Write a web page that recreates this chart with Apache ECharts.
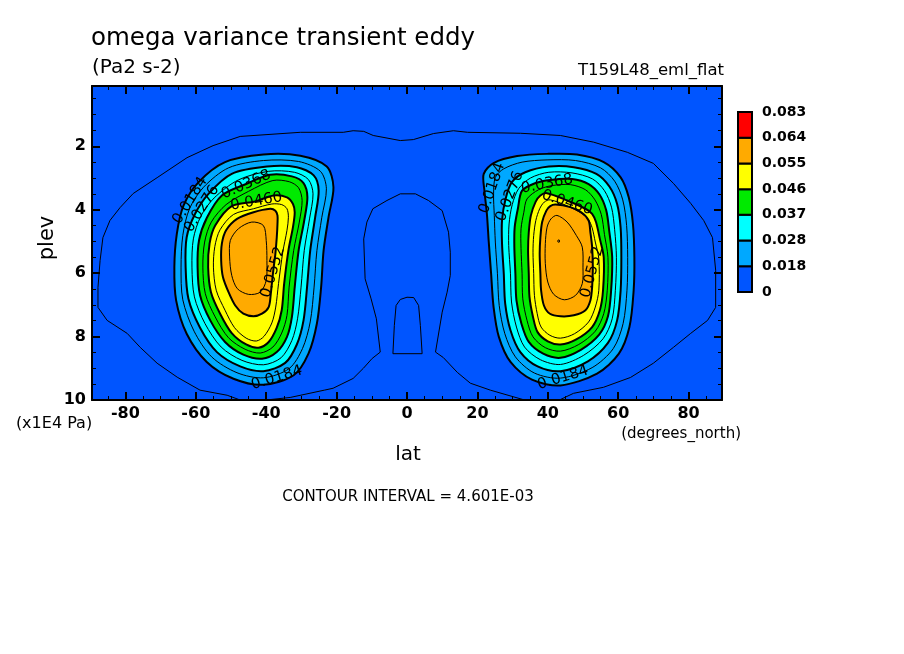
<!DOCTYPE html>
<html><head><meta charset="utf-8">
<script src="https://cdn.jsdelivr.net/npm/echarts@6/dist/echarts.min.js"></script>
<style>html,body{margin:0;padding:0;background:#fff}#c{width:904px;height:654px}</style>
</head><body><div id="c"></div>
<script>
// ---- axis ranges and ticks ----
const latRange = [-89.5, 89.5];
const plevRange = [0.1, 10];
const xLabelTicks = [-80, -60, -40, -20, 0, 20, 40, 60, 80];
const xMinorTicks = [-85, -75, -70, -65, -55, -50, -45, -35, -30, -25, -15, -10, -5, 5, 10, 15, 25, 30, 35, 45, 50, 55, 65, 70, 75, 85];
const yLabelTicks = [2, 4, 6, 8, 10];
const yMinorTicks = [0.5, 1, 1.5, 2.5, 3, 3.5, 4.5, 5, 5.5, 6.5, 7, 7.5, 8.5, 9, 9.5];

// ---- colour bands (shade levels) ----
const shadeLevels = [0, 0.0184, 0.0276, 0.0368, 0.0460, 0.0552, 0.0644, 0.083];
const legendTicks = ['0', '0.018', '0.028', '0.037', '0.046', '0.055', '0.064', '0.083'];
const bandColors = ['#0055ff', '#00a8ff', '#00ffff', '#00ea00', '#ffff00', '#ffaa00', '#ff0000'];
const labeledLevels = [0.0184, 0.0276, 0.0368, 0.0460, 0.0552];

// ---- contour lines: [lat, plev(x1E4 Pa)] ----
const outerLine = [[-58.8,9.69],[-51.1,9.85],[-47.4,10.0],[-40.0,10.0],[-33.2,9.92],[-23.5,9.69],[-21.0,9.63],[-15.3,9.32],[-12.4,9.00],[-9.9,8.69],[-7.6,8.49],[-8.7,7.44],[-10.2,6.81],[-11.9,6.18],[-12.3,4.92],[-11.4,4.39],[-9.7,3.97],[-5.7,3.71],[-1.9,3.50],[2.4,3.50],[6.1,3.71],[10.0,4.03],[11.8,4.71],[12.3,5.34],[12.3,6.07],[11.4,6.60],[10.0,7.23],[8.1,8.49],[10.3,8.66],[14.3,9.13],[18.0,9.47],[23.7,9.69],[33.4,10.0],[43.3,10.0],[47.3,9.79],[55.8,9.60],[63.5,9.29],[70.0,8.84],[75.7,8.34],[80.6,7.90],[85.4,7.49],[87.7,7.08],[87.7,5.91],[86.8,4.88],[84.3,4.34],[80.6,3.80],[75.7,3.17],[70.0,2.54],[62.6,2.19],[53.0,1.87],[43.6,1.66],[32.2,1.59],[17.2,1.56],[13.2,1.51],[7.5,1.60],[1.8,1.79],[-1.9,1.82],[-9.6,1.66],[-12.3,1.53],[-15.3,1.51],[-18.1,1.56],[-30.3,1.56],[-47.4,1.69],[-55.1,1.98],[-62.5,2.36],[-71.0,2.99],[-77.8,3.49],[-81.5,3.93],[-84.4,4.34],[-86.4,4.88],[-87.2,5.60],[-87.8,6.45],[-87.8,7.08],[-85.2,7.49],[-79.5,7.90],[-75.8,8.34],[-71.0,8.84],[-65.3,9.28]];
const centreLoop = [[-3.1,7.02],[-1.9,6.83],[0.0,6.76],[1.9,6.77],[3.3,7.02],[3.8,7.65],[4.3,8.54],[-4.0,8.54],[-3.6,7.65]];

const westC184 = [[-40.8,2.26],[-30.3,2.30],[-22.8,2.64],[-20.9,3.29],[-22.3,4.24],[-23.7,5.29],[-24.4,6.44],[-25.6,7.59],[-28.0,8.54],[-32.2,9.22],[-40.8,9.52],[-49.3,9.33],[-56.9,8.80],[-62.6,7.91],[-65.6,6.86],[-66.1,5.81],[-65.4,4.76],[-63.5,3.87],[-59.2,3.13],[-51.7,2.50]];
const westC230 = [[-40.8,2.45],[-30.8,2.48],[-24.6,2.79],[-22.9,3.34],[-24.2,4.24],[-25.6,5.29],[-26.4,6.44],[-27.5,7.54],[-29.7,8.38],[-33.5,9.01],[-40.8,9.30],[-48.3,9.14],[-55.5,8.64],[-60.5,7.83],[-63.7,6.84],[-64.2,5.81],[-63.7,4.81],[-61.8,3.97],[-57.8,3.29],[-50.7,2.68]];
const westC276 = [[-39.8,2.64],[-31.3,2.66],[-26.5,2.92],[-25.1,3.40],[-26.1,4.24],[-27.5,5.29],[-28.4,6.44],[-29.4,7.49],[-31.3,8.25],[-34.6,8.83],[-40.8,9.09],[-47.4,8.94],[-54.0,8.49],[-58.8,7.72],[-62.1,6.81],[-62.9,5.81],[-62.6,4.87],[-60.2,4.13],[-56.4,3.50],[-49.8,2.87]];
const westC322 = [[-39.3,2.79],[-32.0,2.82],[-28.0,3.05],[-26.7,3.50],[-27.7,4.29],[-29.2,5.29],[-30.1,6.44],[-31.1,7.44],[-32.7,8.12],[-35.8,8.67],[-40.8,8.89],[-46.9,8.75],[-52.8,8.33],[-57.4,7.59],[-60.4,6.75],[-61.1,5.81],[-60.7,4.92],[-58.6,4.21],[-54.8,3.63],[-47.9,3.06]];
const westC368 = [[-38.9,2.90],[-32.7,2.95],[-29.4,3.16],[-28.3,3.61],[-29.2,4.34],[-30.8,5.29],[-31.9,6.44],[-32.7,7.38],[-34.1,8.01],[-37.0,8.49],[-41.2,8.70],[-46.5,8.57],[-51.7,8.17],[-55.9,7.49],[-58.8,6.70],[-59.5,5.81],[-59.1,4.97],[-56.9,4.26],[-52.6,3.55],[-45.7,3.19]];
const westC414 = [[-38.1,3.08],[-33.4,3.12],[-30.8,3.31],[-29.8,3.71],[-30.6,4.39],[-32.2,5.29],[-33.5,6.44],[-34.1,7.33],[-35.6,7.89],[-38.1,8.33],[-41.7,8.52],[-46.0,8.40],[-50.7,8.04],[-54.5,7.38],[-57.3,6.65],[-58.0,5.81],[-57.5,5.02],[-55.6,4.39],[-51.4,3.84],[-45.0,3.42]];
const westC460 = [[-37.9,3.55],[-34.1,3.61],[-32.4,3.82],[-31.9,4.08],[-32.4,4.55],[-33.7,5.29],[-34.9,6.33],[-35.6,7.17],[-37.0,7.72],[-39.3,8.17],[-42.2,8.35],[-45.7,8.25],[-49.8,7.89],[-53.1,7.28],[-55.7,6.60],[-56.5,5.81],[-56.1,5.07],[-54.5,4.50],[-49.8,3.89],[-43.1,3.74]];
const westC506 = [[-38.4,3.82],[-35.6,3.84],[-34.1,3.97],[-33.7,4.24],[-34.1,4.65],[-35.3,5.34],[-36.5,6.33],[-37.3,7.07],[-38.4,7.57],[-40.6,7.99],[-42.8,8.14],[-45.7,8.05],[-49.0,7.72],[-51.7,7.17],[-54.2,6.54],[-55.0,5.81],[-54.6,5.16],[-53.1,4.63],[-49.3,4.15],[-43.6,3.97]];
const westC552 = [[-38.9,3.97],[-37.4,4.03],[-36.8,4.18],[-36.8,4.45],[-37.0,4.87],[-37.4,5.39],[-38.1,6.02],[-38.7,6.65],[-39.3,7.07],[-41.2,7.28],[-43.6,7.36],[-46.5,7.28],[-48.8,7.02],[-50.7,6.60],[-52.3,6.12],[-52.8,5.60],[-52.6,5.07],[-51.4,4.65],[-48.3,4.29],[-43.6,4.08]];
const westC598 = [[-44.1,4.39],[-40.8,4.50],[-40.0,4.97],[-39.8,5.60],[-40.0,6.23],[-41.7,6.60],[-45.0,6.67],[-48.2,6.49],[-49.8,6.07],[-50.4,5.49],[-50.2,4.97],[-47.9,4.60]];

const eastC184 = [[39.8,2.24],[48.3,2.26],[55.9,2.50],[60.7,2.98],[63.0,3.61],[64.2,4.45],[64.6,5.50],[64.4,6.54],[63.2,7.70],[60.2,8.54],[54.0,9.17],[43.6,9.54],[35.5,9.36],[29.4,8.80],[26.1,8.01],[24.6,7.07],[23.9,6.02],[23.2,4.97],[22.7,4.13],[22.0,3.40],[21.8,2.87],[24.6,2.53],[31.3,2.31]];
const eastC230 = [[39.8,2.43],[47.9,2.45],[55.0,2.68],[59.0,3.10],[61.3,3.69],[62.4,4.50],[62.7,5.50],[62.5,6.54],[61.4,7.59],[58.6,8.38],[52.6,8.98],[43.6,9.31],[36.2,9.15],[30.8,8.64],[27.8,7.91],[26.2,7.02],[25.7,6.02],[25.1,5.02],[24.8,4.18],[24.6,3.50],[25.1,2.98],[27.5,2.71],[32.7,2.50]];
const eastC276 = [[40.3,2.64],[47.4,2.66],[53.8,2.87],[57.5,3.27],[59.7,3.82],[60.7,4.57],[60.9,5.50],[60.7,6.54],[59.7,7.49],[57.1,8.20],[51.4,8.78],[43.6,9.09],[37.1,8.94],[32.2,8.49],[29.4,7.80],[27.9,6.96],[27.5,6.02],[27.0,5.07],[27.0,4.34],[28.0,3.66],[29.8,3.13],[33.6,2.82]];
const eastC322 = [[40.3,2.82],[46.9,2.84],[52.7,3.03],[56.1,3.40],[58.1,3.92],[59.0,4.63],[59.5,5.50],[59.2,6.54],[58.3,7.44],[55.7,8.07],[50.2,8.59],[43.6,8.88],[37.9,8.73],[33.4,8.33],[31.1,7.70],[29.7,6.91],[29.4,6.02],[28.9,5.13],[29.0,4.45],[29.9,3.84],[31.7,3.34],[35.1,3.00]];
const eastC368 = [[40.7,3.06],[46.9,3.03],[51.6,3.19],[54.7,3.52],[56.6,4.02],[57.5,4.71],[58.3,5.50],[58.0,6.54],[57.1,7.36],[54.6,7.94],[49.5,8.41],[43.6,8.67],[38.7,8.54],[34.6,8.17],[32.5,7.59],[31.1,6.86],[30.8,6.02],[30.5,5.18],[30.6,4.55],[31.5,3.97],[32.7,3.40],[36.5,3.16]];
const eastC414 = [[41.2,3.24],[46.4,3.21],[50.7,3.37],[53.4,3.69],[55.2,4.15],[56.1,4.78],[57.1,5.50],[56.9,6.54],[55.9,7.28],[53.5,7.83],[48.8,8.25],[43.6,8.46],[39.3,8.35],[35.8,8.01],[34.1,7.49],[32.9,6.81],[32.7,6.02],[32.4,5.23],[32.4,4.60],[33.2,4.08],[34.1,3.66],[37.4,3.37]];
const eastC460 = [[39.8,3.48],[45.5,3.71],[50.7,3.97],[52.6,4.13],[53.7,4.39],[54.8,4.92],[55.9,5.50],[55.7,6.54],[54.8,7.17],[52.6,7.70],[48.1,8.09],[43.6,8.25],[40.0,8.15],[37.1,7.86],[35.8,7.38],[34.8,6.75],[34.6,6.02],[34.4,5.28],[34.6,4.71],[35.2,4.18],[36.5,3.76],[37.9,3.55]];
const eastC506 = [[40.7,3.69],[45.5,3.88],[49.8,4.13],[51.6,4.32],[52.6,4.57],[53.5,5.02],[54.5,5.55],[54.5,6.54],[53.5,7.07],[51.6,7.54],[47.6,7.91],[43.6,8.05],[40.6,7.96],[38.1,7.70],[37.0,7.28],[36.2,6.70],[36.0,6.02],[35.8,5.34],[36.0,4.81],[36.6,4.34],[37.7,3.97],[39.0,3.76]];
const eastC552 = [[42.2,3.84],[46.4,3.92],[49.5,4.08],[51.6,4.34],[52.1,4.71],[52.6,5.18],[52.8,5.81],[52.6,6.44],[52.1,6.86],[50.7,7.17],[47.4,7.33],[43.6,7.36],[40.6,7.28],[38.9,7.02],[38.1,6.54],[37.9,6.02],[37.7,5.39],[37.9,4.87],[38.4,4.39],[39.6,4.03],[40.7,3.89]];
const eastC598 = [[42.6,4.18],[45.5,4.39],[48.1,4.81],[49.8,5.18],[50.0,5.81],[49.8,6.33],[47.9,6.70],[44.7,6.84],[41.7,6.67],[40.0,6.28],[39.3,5.70],[39.3,5.07],[39.8,4.55],[40.9,4.29]];
const eastC644 = [[42.9,4.96],[43.3,4.96],[43.3,5.02],[42.9,5.02]];

// ---- contour labels: text, lat, plev ----
const labelTexts = ['0.0184','0.0276','0.0368','0.0460','0.0552','0.0184','0.0184','0.0276','0.0368','0.0460','0.0552','0.0184'];
const labelLats  = [-61.6, -58.3, -45.7, -42.8, -38.1, -37.0, 24.2, 29.2, 39.8, 45.5, 52.6, 44.3];
const labelPlevs = [3.71, 3.97, 3.21, 3.74, 5.97, 9.30, 3.32, 3.58, 3.19, 3.78, 5.97, 9.30];
const labelAngles = [58, 58, 24, 10, 73, 17, 71, 69, 11, -18, 75, 17];

const contours = [
  {level: 0.0092, pts: outerLine}, {level: 0.0138, pts: centreLoop},
  {level: 0.0184, pts: westC184}, {level: 0.0230, pts: westC230}, {level: 0.0276, pts: westC276},
  {level: 0.0322, pts: westC322}, {level: 0.0368, pts: westC368}, {level: 0.0414, pts: westC414},
  {level: 0.0460, pts: westC460}, {level: 0.0506, pts: westC506}, {level: 0.0552, pts: westC552},
  {level: 0.0598, pts: westC598},
  {level: 0.0184, pts: eastC184}, {level: 0.0230, pts: eastC230}, {level: 0.0276, pts: eastC276},
  {level: 0.0322, pts: eastC322}, {level: 0.0368, pts: eastC368}, {level: 0.0414, pts: eastC414},
  {level: 0.0460, pts: eastC460}, {level: 0.0506, pts: eastC506}, {level: 0.0552, pts: eastC552},
  {level: 0.0598, pts: eastC598}, {level: 0.0644, pts: eastC644}
];
const fillList = contours.filter(c => shadeLevels.indexOf(c.level) > 0 && c.level < 0.06)
  .sort((a, b) => a.level - b.level);

const FONT = 'DejaVu Sans';
const SMOOTH = 0.3;
const chart = echarts.init(document.getElementById('c'), null, {renderer: 'canvas'});

function xAx(pos, ticks, len, w, showLine, showLabel) {
  return {
    type: 'value', gridIndex: 0, position: pos, min: latRange[0], max: latRange[1],
    splitLine: {show: false},
    axisLine: {show: showLine, onZero: false, lineStyle: {color: '#000', width: 2}},
    axisTick: {show: true, inside: true, length: len, customValues: ticks, lineStyle: {color: '#000', width: w}},
    axisLabel: {show: showLabel, customValues: xLabelTicks, margin: 6, color: '#000',
      fontSize: 16, fontFamily: FONT, fontWeight: 'bold'}
  };
}
function yAx(pos, ticks, len, w, showLine, showLabel) {
  return {
    type: 'value', gridIndex: 0, position: pos, min: plevRange[0], max: plevRange[1], inverse: true,
    splitLine: {show: false},
    axisLine: {show: showLine, onZero: false, lineStyle: {color: '#000', width: 2}},
    axisTick: {show: true, inside: true, length: len, customValues: ticks, lineStyle: {color: '#000', width: w}},
    axisLabel: {show: showLabel, customValues: yLabelTicks, margin: 6, color: '#000',
      fontSize: 16, fontFamily: FONT, fontWeight: 'bold'}
  };
}

function txt(text, x, y, size, align, rot) {
  return {type: 'text', x: x, y: y, rotation: rot || 0, silent: true,
    style: {text: text, fill: '#000', font: size + 'px "' + FONT + '"',
      align: align, verticalAlign: 'middle', textAlign: align, textVerticalAlign: 'middle'}};
}

const option = {
  backgroundColor: '#ffffff',
  animation: false,
  grid: [
    {left: 92, top: 86, width: 630, height: 314, show: true, backgroundColor: bandColors[0], borderWidth: 0},
    {left: 738, top: 112, width: 14, height: 180, show: false}
  ],
  xAxis: [
    xAx('bottom', xLabelTicks, 8, 2, true, true),
    xAx('bottom', xMinorTicks, 4, 1, false, false),
    xAx('top', xLabelTicks, 8, 2, true, false),
    xAx('top', xMinorTicks, 4, 1, false, false),
    {type: 'value', gridIndex: 1, min: 0, max: 1, show: false}
  ],
  yAxis: [
    yAx('left', yLabelTicks, 8, 2, true, true),
    yAx('left', yMinorTicks, 4, 1, false, false),
    yAx('right', yLabelTicks, 8, 2, true, false),
    yAx('right', yMinorTicks, 4, 1, false, false),
    {type: 'value', gridIndex: 1, position: 'right', min: 0, max: 7, interval: 1,
      splitLine: {show: false}, axisLine: {show: false}, axisTick: {show: false},
      axisLabel: {show: true, showMinLabel: true, showMaxLabel: true, margin: 10, color: '#000',
        fontSize: 14, fontWeight: 'bold', fontFamily: FONT,
        formatter: v => legendTicks[Math.round(v)]}}
  ],
  series: [
    { // shaded bands
      type: 'custom', xAxisIndex: 0, yAxisIndex: 0, clip: true, silent: true,
      data: fillList.map(c => c.pts[0]),
      renderItem: function (params, api) {
        const c = fillList[params.dataIndex];
        const col = bandColors[shadeLevels.indexOf(c.level)];
        return {type: 'polygon', shape: {points: c.pts.map(p => api.coord(p)), smooth: SMOOTH},
          style: {fill: col, stroke: col, lineWidth: 0.5}};
      }
    },
    { // contour lines
      type: 'custom', xAxisIndex: 0, yAxisIndex: 0, clip: true, silent: true,
      data: contours.map(c => c.pts[0]),
      renderItem: function (params, api) {
        const c = contours[params.dataIndex];
        const thick = labeledLevels.indexOf(c.level) >= 0;
        const sm = c.level >= 0.0184 ? SMOOTH : 0;
        return {type: 'polygon', shape: {points: c.pts.map(p => api.coord(p)), smooth: sm},
          style: {fill: 'none', stroke: '#000', lineWidth: thick ? 2 : 1}};
      }
    },
    { // contour labels
      type: 'custom', xAxisIndex: 0, yAxisIndex: 0, clip: true, silent: true,
      data: labelLats.map((la, i) => [la, labelPlevs[i]]),
      renderItem: function (params, api) {
        const i = params.dataIndex;
        const p = api.coord([labelLats[i], labelPlevs[i]]);
        return {type: 'text', x: p[0], y: p[1], rotation: labelAngles[i] * Math.PI / 180,
          style: {text: labelTexts[i], fill: '#000', font: '15px "' + FONT + '"',
            align: 'center', verticalAlign: 'middle', textAlign: 'center', textVerticalAlign: 'middle'}};
      }
    },
    { // colour bar
      type: 'custom', xAxisIndex: 4, yAxisIndex: 4, silent: true,
      data: bandColors.map((c, i) => [0, i]),
      renderItem: function (params, api) {
        const i = params.dataIndex;
        const a = api.coord([0, i + 1]);
        const b = api.coord([1, i]);
        return {type: 'rect', shape: {x: a[0], y: a[1], width: b[0] - a[0], height: b[1] - a[1]},
          style: {fill: bandColors[i], stroke: '#000', lineWidth: 2}};
      }
    }
  ],
  graphic: {elements: [
    txt('omega variance transient eddy', 91, 39, 24.5, 'left'),
    txt('(Pa2 s-2)', 92, 68, 20, 'left'),
    txt('T159L48_eml_flat', 724, 71, 16.5, 'right'),
    txt('plev', 48, 238, 21, 'center', Math.PI / 2),
    txt('(x1E4 Pa)', 54, 424, 16, 'center'),
    txt('(degrees_north)', 741, 434, 15, 'right'),
    txt('lat', 408, 455, 20, 'center'),
    txt('CONTOUR INTERVAL = 4.601E-03', 408, 497, 15, 'center')
  ]}
};
chart.setOption(option);
</script>
</body></html>
